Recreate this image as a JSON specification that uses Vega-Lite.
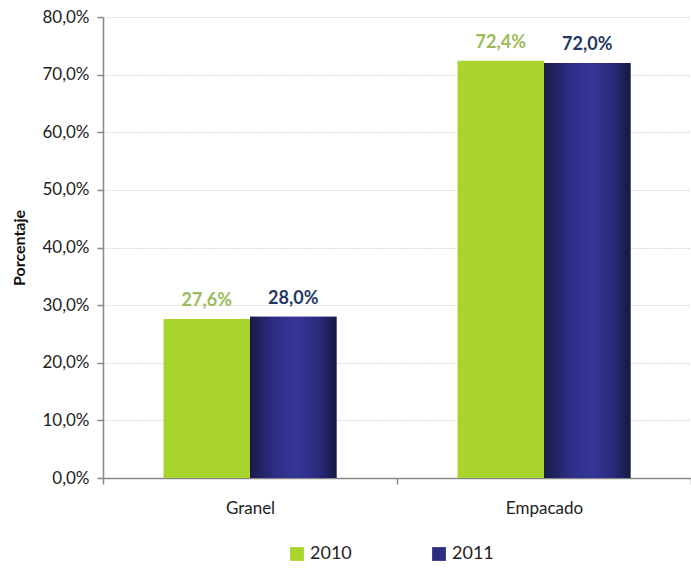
{
  "$schema": "https://vega.github.io/schema/vega-lite/v6.json",
  "autosize": "none",
  "width": 588,
  "height": 461,
  "padding": {"left": 103, "top": 17, "right": 0, "bottom": 90},
  "background": "white",
  "config": {
    "locale": {"number": {"decimal": ",", "thousands": ".", "grouping": [3], "currency": ["", " €"]}},
    "font": "Lato",
    "view": {"stroke": null}
  },
  "data": {
    "values": [
      {"tipo": "Granel", "anio": "2010", "valor": 0.276},
      {"tipo": "Granel", "anio": "2011", "valor": 0.28},
      {"tipo": "Empacado", "anio": "2010", "valor": 0.724},
      {"tipo": "Empacado", "anio": "2011", "valor": 0.72}
    ]
  },
  "encoding": {
    "x": {
      "field": "tipo", "type": "nominal", "sort": ["Granel", "Empacado"],
      "scale": {"paddingInner": 0, "paddingOuter": 0},
      "axis": {
        "title": null, "labelAngle": 0, "labelFontSize": 17, "labelColor": "#222",
        "labelPadding": 16, "domainColor": "#888", "domainWidth": 1.5,
        "tickColor": "#888", "tickWidth": 1.5, "tickSize": 6, "tickBand": "extent"
      }
    },
    "xOffset": {
      "field": "anio", "type": "nominal", "sort": ["2010", "2011"],
      "scale": {"paddingInner": 0, "paddingOuter": 0.7}
    },
    "y": {
      "field": "valor", "type": "quantitative",
      "scale": {"domain": [0, 0.8], "nice": false},
      "axis": {
        "title": "Porcentaje", "titleFontSize": 16, "titleFontWeight": "bold",
        "titleColor": "#111", "titlePadding": 14,
        "format": ".1%", "values": [0, 0.1, 0.2, 0.3, 0.4, 0.5, 0.6, 0.7, 0.8],
        "labelFontSize": 17, "labelColor": "#222", "labelPadding": 8,
        "domainColor": "#888", "domainWidth": 1.5, "tickColor": "#888",
        "tickWidth": 1.5, "tickSize": 6,
        "grid": true, "gridColor": "#bbbbbb", "gridDash": [1, 2], "gridWidth": 1
      }
    }
  },
  "layer": [
    {
      "mark": {"type": "bar"},
      "encoding": {
        "color": {
          "field": "anio", "type": "nominal",
          "scale": {"domain": ["2010", "2011"], "range": ["#a8d42c", "#2c2c80"]},
          "legend": {
            "title": null, "orient": "none", "direction": "horizontal",
            "legendX": 185, "legendY": 528,
            "symbolType": "square", "symbolSize": 190, "symbolStrokeWidth": 0,
            "labelFontSize": 18, "labelColor": "#222", "columnPadding": 78,
            "labelOffset": 4
          }
        }
      }
    },
    {
      "transform": [{"filter": "datum.anio === '2011'"}],
      "mark": {
        "type": "bar",
        "color": {
          "gradient": "linear", "x1": 0, "x2": 1, "y1": 0, "y2": 0,
          "stops": [
            {"offset": 0, "color": "#1a1a48"},
            {"offset": 0.3, "color": "#2e2e88"},
            {"offset": 0.55, "color": "#363699"},
            {"offset": 0.8, "color": "#2a2a7c"},
            {"offset": 1, "color": "#181840"}
          ]
        }
      },
      "encoding": {}
    },
    {
      "transform": [{"filter": "datum.anio === '2010'"}],
      "mark": {"type": "text", "fontSize": 18, "fontWeight": "bold", "baseline": "bottom", "dy": -9, "color": "#9bbb59"},
      "encoding": {
        "text": {"field": "valor", "type": "quantitative", "format": ".1%"}
      }
    },
    {
      "transform": [{"filter": "datum.anio === '2011'"}],
      "mark": {"type": "text", "fontSize": 18, "fontWeight": "bold", "baseline": "bottom", "dy": -9, "color": "#1f3864"},
      "encoding": {
        "text": {"field": "valor", "type": "quantitative", "format": ".1%"}
      }
    }
  ]
}
